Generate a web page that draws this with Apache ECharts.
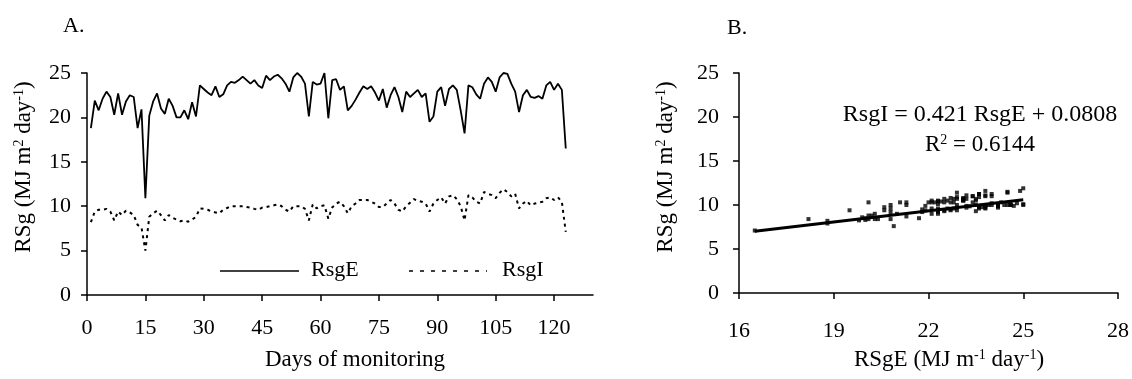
<!DOCTYPE html>
<html>
<head>
<meta charset="utf-8">
<script src="https://cdn.jsdelivr.net/npm/echarts@6/dist/echarts.min.js"></script>
<style>
  html, body { margin: 0; padding: 0; background: #fff; }
  #chart { width: 1132px; height: 379px; }
</style>
</head>
<body>
<div id="chart"></div>
<script>
// ── Data ──────────────────────────────────────────────────────────────────────

// daily solar radiation outside (RsgE) and inside (RsgI), days 1..123
const rsgE = [
  18.8, 21.9, 20.8, 22.1, 22.9, 22.3, 20.3, 22.7, 20.3, 21.8,
  22.5, 22.3, 18.8, 20.9, 10.9, 20.2, 21.8, 22.7, 21.0, 20.4,
  22.1, 21.3, 20.0, 20.0, 20.8, 19.8, 21.7, 20.1, 23.6, 23.2,
  22.8, 22.5, 23.5, 22.3, 22.6, 23.6, 24.0, 23.9, 24.2, 24.6,
  24.2, 23.8, 24.2, 23.6, 23.3, 24.7, 24.2, 24.6, 24.8, 24.4,
  23.8, 22.9, 24.5, 25.0, 24.6, 23.8, 20.1, 24.0, 23.7, 23.8,
  25.0, 19.9, 24.2, 24.3, 23.1, 23.5, 20.8, 21.3, 22.0, 22.8,
  23.5, 23.2, 23.5, 22.8, 21.9, 23.2, 21.1, 22.5, 23.4, 22.3,
  20.6, 22.9, 22.3, 22.7, 23.1, 22.3, 22.7, 19.5, 20.1, 22.9,
  23.4, 21.3, 23.2, 23.6, 23.1, 20.8, 18.2, 23.6, 23.4, 22.6,
  22.1, 23.8, 24.5, 24.0, 22.9, 24.5, 25.0, 24.9, 23.8, 22.9,
  20.6, 22.5, 23.1, 22.3, 22.2, 22.4, 22.1, 23.6, 24.0, 23.1,
  23.8, 23.1, 16.5,
]
const rsgI = [
  8.2, 9.4, 9.6, 9.6, 9.7, 9.4, 8.4, 9.4, 9.0, 9.5,
  9.3, 9.0, 7.9, 7.6, 5.0, 8.8, 9.2, 9.5, 9.0, 8.4,
  9.0, 8.7, 8.5, 8.3, 8.4, 8.25, 8.5, 8.8, 9.75, 9.7,
  9.6, 9.4, 9.3, 9.2, 9.6, 9.8, 10.0, 10.0, 10.0, 10.0,
  9.9, 9.85, 9.7, 9.6, 9.85, 9.9, 10.0, 10.1, 10.2, 10.0,
  9.6, 9.4, 10.0, 10.0, 10.0, 9.7, 8.4, 10.2, 9.75, 10.0,
  10.1, 8.6, 9.85, 10.3, 10.5, 10.0, 9.2, 10.0, 10.3, 10.7,
  10.7, 10.7, 10.5, 10.3, 9.9, 9.9, 10.3, 10.7, 10.3, 9.6,
  9.4, 10.0, 10.4, 10.8, 10.6, 10.5, 10.3, 9.4, 10.3, 10.7,
  11.0, 10.3, 11.1, 11.25, 10.8, 10.0, 8.4, 11.25, 11.0, 10.5,
  10.3, 11.6, 11.4, 11.25, 10.9, 11.5, 11.9, 11.6, 11.1, 11.4,
  9.75, 10.3, 10.6, 10.1, 10.3, 10.4, 10.5, 10.9, 11.0, 10.7,
  11.0, 10.5, 7.1,
]

const dayTicks = [0, 15, 30, 45, 60, 75, 90, 105, 120]

// regression printed on panel B
const slope = 0.421
const intercept = 0.0808
const equationText = 'RsgI = 0.421 RsgE + 0.0808'

// ── Derived series ────────────────────────────────────────────────────────────

const days = rsgE.map((_, i) => i + 1)
const lineE = days.map((d, i) => [d, rsgE[i]])
const lineI = days.map((d, i) => [d, rsgI[i]])

const scatterPts = rsgE
  .map((e, i) => [e, rsgI[i]])
  .filter(p => p[0] >= 16)
const xs = scatterPts.map(p => p[0])
const xMin = Math.min(...xs)
const xMax = Math.max(...xs)
const trend = [
  [xMin, slope * xMin + intercept],
  [xMax, slope * xMax + intercept],
]

// ── Styling helpers ───────────────────────────────────────────────────────────

const FONT = '"Liberation Serif", "Times New Roman", serif'
const INK = '#000'
const DOTS = [3, 4]

const supRich = {
  n: { fontFamily: FONT, fontSize: 23, color: INK },
  s: { fontFamily: FONT, fontSize: 14, color: INK, verticalAlign: 'top', lineHeight: 23 },
}

function axisBase() {
  return {
    axisLine: { show: true, onZero: false, lineStyle: { color: INK, width: 1.5 } },
    axisTick: { show: true, inside: false, length: 6, lineStyle: { color: INK, width: 1.5 } },
    splitLine: { show: false },
    axisLabel: { color: INK, fontFamily: FONT, fontSize: 22 },
  }
}

function withAxis(extra) {
  const base = axisBase()
  return {
    ...base,
    ...extra,
    axisLabel: { ...base.axisLabel, ...(extra.axisLabel || {}) },
    axisTick: { ...base.axisTick, ...(extra.axisTick || {}) },
  }
}

function label(x, y, text, size, align) {
  return {
    type: 'text', x, y,
    style: { text, font: `${size}px ${FONT}`, fill: INK, align: align || 'left', verticalAlign: 'middle' },
  }
}

function richLabel(x, y, text, rotation) {
  return {
    type: 'text', x, y, rotation: rotation || 0,
    style: { text, rich: supRich, align: 'center', verticalAlign: 'middle' },
  }
}

function legendLine(x1, x2, y, dash) {
  return {
    type: 'line',
    shape: { x1, y1: y, x2, y2: y },
    style: { stroke: INK, lineWidth: 1.5, lineDash: dash || null },
  }
}

// ── Option ────────────────────────────────────────────────────────────────────

const option = {
  animation: false,
  backgroundColor: '#fff',
  grid: [
    { left: 87, top: 73, width: 506, height: 222 },
    { left: 739, top: 73, width: 381, height: 220 },
  ],
  xAxis: [
    withAxis({
      type: 'value', gridIndex: 0, min: 0, max: 130, interval: 15,
      axisLabel: { margin: 22, customValues: dayTicks },
      axisTick: { customValues: dayTicks },
    }),
    withAxis({
      type: 'value', gridIndex: 1, min: 16, max: 28, interval: 3,
      axisLabel: { margin: 27 },
    }),
  ],
  yAxis: [
    withAxis({
      type: 'value', gridIndex: 0, min: 0, max: 25, interval: 5,
      axisLabel: { margin: 16 },
    }),
    withAxis({
      type: 'value', gridIndex: 1, min: 0, max: 25, interval: 5,
      axisLabel: { margin: 20 },
    }),
  ],
  series: [
    {
      name: 'RsgE', type: 'line', xAxisIndex: 0, yAxisIndex: 0,
      data: lineE, symbol: 'none',
      lineStyle: { color: INK, width: 1.8 },
    },
    {
      name: 'RsgI', type: 'line', xAxisIndex: 0, yAxisIndex: 0,
      data: lineI, symbol: 'none',
      lineStyle: { color: INK, width: 2, type: DOTS },
    },
    {
      name: 'obs', type: 'scatter', xAxisIndex: 1, yAxisIndex: 1,
      data: scatterPts, symbol: 'rect', symbolSize: 4,
      itemStyle: { color: INK },
    },
    {
      name: 'trend', type: 'line', xAxisIndex: 1, yAxisIndex: 1,
      data: trend, symbol: 'none',
      lineStyle: { color: INK, width: 3 },
    },
  ],
  graphic: [
    label(63, 26, 'A.', 22),
    label(727, 28, 'B.', 22),
    // axis titles
    richLabel(24, 167, '{n|RSg (MJ m}{s|2}{n| day}{s|-1}{n|)}', Math.PI / 2),
    richLabel(666, 167, '{n|RSg (MJ m}{s|2}{n| day}{s|-1}{n|)}', Math.PI / 2),
    label(355, 360, 'Days of monitoring', 23, 'center'),
    richLabel(949, 360, '{n|RSgE (MJ m}{s|-1}{n| day}{s|-1}{n|)}'),
    // legend
    legendLine(220, 299, 271),
    label(311, 270, 'RsgE', 22),
    legendLine(409, 487, 271, [4, 7]),
    label(502, 270, 'RsgI', 22),
    // regression
    label(980, 115, equationText, 24, 'center'),
    richLabel(980, 145, '{n|R}{s|2}{n| = 0.6144}'),
  ],
}

const chart = echarts.init(document.getElementById('chart'))
chart.setOption(option)
</script>
</body>
</html>
